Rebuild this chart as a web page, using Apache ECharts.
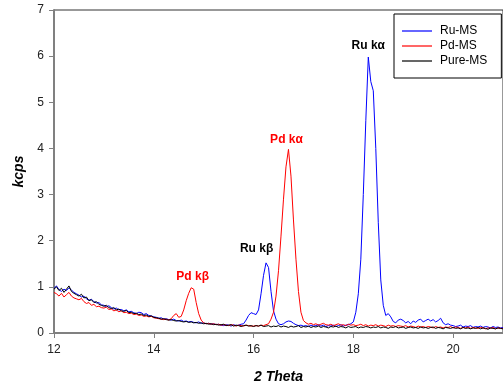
<!DOCTYPE html>
<html>
<head>
<meta charset="utf-8">
<script src="https://cdn.jsdelivr.net/npm/echarts@6/dist/echarts.min.js"></script>
<style>
html,body{margin:0;padding:0;background:#fff;}
#chart{width:503px;height:390px;}
</style>
</head>
<body>
<div id="chart"></div>
<script>
// 2 Theta positions
var twoTheta = [
12.00,12.05,12.10,12.15,12.20,12.25,12.30,12.35,12.40,12.45,
12.50,12.55,12.60,12.65,12.70,12.75,12.80,12.85,12.90,12.95,
13.00,13.05,13.10,13.15,13.20,13.25,13.30,13.35,13.40,13.45,
13.50,13.55,13.60,13.65,13.70,13.75,13.80,13.85,13.90,13.95,
14.00,14.05,14.10,14.15,14.20,14.25,14.30,14.35,14.40,14.45,
14.50,14.55,14.60,14.65,14.70,14.75,14.80,14.85,14.90,14.95,
15.00,15.05,15.10,15.15,15.20,15.25,15.30,15.35,15.40,15.45,
15.50,15.55,15.60,15.65,15.70,15.75,15.80,15.85,15.90,15.95,
16.00,16.05,16.10,16.15,16.20,16.25,16.30,16.35,16.40,16.45,
16.50,16.55,16.60,16.65,16.70,16.75,16.80,16.85,16.90,16.95,
17.00,17.05,17.10,17.15,17.20,17.25,17.30,17.35,17.40,17.45,
17.50,17.55,17.60,17.65,17.70,17.75,17.80,17.85,17.90,17.95,
18.00,18.05,18.10,18.15,18.20,18.25,18.30,18.35,18.40,18.45,
18.50,18.55,18.60,18.65,18.70,18.75,18.80,18.85,18.90,18.95,
19.00,19.05,19.10,19.15,19.20,19.25,19.30,19.35,19.40,19.45,
19.50,19.55,19.60,19.65,19.70,19.75,19.80,19.85,19.90,19.95,
20.00,20.05,20.10,20.15,20.20,20.25,20.30,20.35,20.40,20.45,
20.50,20.55,20.60,20.65,20.70,20.75,20.80,20.85,20.90,20.95,
21.00];

var ruMS = [
0.97,1.02,0.94,0.90,0.95,0.92,0.98,0.93,0.88,0.85,
0.82,0.78,0.80,0.74,0.71,0.73,0.68,0.65,0.66,0.61,
0.60,0.57,0.59,0.55,0.52,0.54,0.50,0.51,0.48,0.50,
0.46,0.47,0.44,0.42,0.45,0.44,0.40,0.42,0.38,0.37,
0.35,0.34,0.32,0.33,0.30,0.31,0.29,0.28,0.30,0.27,
0.26,0.28,0.25,0.26,0.24,0.25,0.23,0.22,0.24,0.21,
0.22,0.20,0.21,0.19,0.20,0.18,0.19,0.17,0.16,0.18,
0.17,0.15,0.18,0.16,0.17,0.19,0.20,0.28,0.38,0.44,
0.42,0.40,0.50,0.85,1.25,1.52,1.42,0.90,0.48,0.30,
0.20,0.18,0.20,0.24,0.26,0.25,0.21,0.18,0.16,0.17,
0.15,0.16,0.14,0.17,0.15,0.16,0.18,0.15,0.17,0.14,
0.16,0.15,0.17,0.14,0.16,0.18,0.15,0.17,0.18,0.20,
0.24,0.45,0.85,1.60,3.00,4.60,5.98,5.45,5.25,4.00,
2.40,1.15,0.60,0.38,0.42,0.35,0.25,0.22,0.28,0.30,
0.27,0.22,0.25,0.20,0.26,0.23,0.28,0.30,0.24,0.27,
0.30,0.26,0.29,0.24,0.27,0.32,0.22,0.18,0.20,0.17,
0.16,0.14,0.15,0.17,0.13,0.15,0.14,0.16,0.12,0.14,
0.13,0.15,0.12,0.14,0.13,0.11,0.14,0.12,0.13,0.11,
0.12];

var pdMS = [
0.88,0.85,0.80,0.86,0.78,0.83,0.88,0.80,0.76,0.74,
0.72,0.75,0.68,0.64,0.66,0.60,0.62,0.57,0.58,0.55,
0.54,0.56,0.51,0.52,0.48,0.50,0.46,0.48,0.44,0.45,
0.42,0.43,0.40,0.41,0.38,0.39,0.36,0.37,0.35,0.36,
0.33,0.32,0.31,0.30,0.29,0.30,0.28,0.31,0.38,0.42,
0.34,0.36,0.50,0.70,0.86,0.98,0.95,0.66,0.42,0.28,
0.22,0.20,0.21,0.19,0.20,0.18,0.19,0.17,0.18,0.17,
0.16,0.18,0.17,0.15,0.17,0.16,0.15,0.17,0.16,0.15,
0.15,0.16,0.15,0.17,0.16,0.18,0.20,0.30,0.45,0.80,
1.35,2.10,2.90,3.60,3.98,3.40,2.45,1.60,0.90,0.45,
0.27,0.22,0.19,0.21,0.18,0.20,0.17,0.19,0.21,0.18,
0.17,0.19,0.16,0.18,0.20,0.17,0.18,0.16,0.19,0.17,
0.18,0.16,0.17,0.19,0.16,0.18,0.15,0.17,0.16,0.18,
0.15,0.17,0.16,0.14,0.17,0.15,0.16,0.14,0.16,0.15,
0.14,0.16,0.13,0.15,0.14,0.12,0.15,0.13,0.14,0.12,
0.14,0.13,0.11,0.14,0.12,0.13,0.11,0.13,0.12,0.14,
0.11,0.13,0.12,0.10,0.12,0.11,0.13,0.10,0.12,0.11,
0.10,0.12,0.11,0.09,0.11,0.10,0.12,0.09,0.11,0.10,
0.10];

var pureMS = [
0.95,1.00,0.92,0.97,0.88,0.95,1.02,0.90,0.86,0.83,
0.80,0.84,0.76,0.78,0.70,0.72,0.66,0.68,0.62,0.60,
0.58,0.60,0.55,0.53,0.55,0.50,0.52,0.48,0.47,0.49,
0.44,0.45,0.42,0.43,0.40,0.41,0.38,0.39,0.36,0.37,
0.34,0.33,0.32,0.30,0.31,0.29,0.28,0.29,0.27,0.26,
0.27,0.25,0.24,0.25,0.23,0.24,0.22,0.23,0.21,0.22,
0.20,0.21,0.19,0.20,0.18,0.19,0.17,0.18,0.19,0.16,
0.17,0.18,0.15,0.17,0.16,0.14,0.16,0.17,0.15,0.16,
0.14,0.16,0.15,0.17,0.14,0.15,0.16,0.13,0.15,0.14,
0.16,0.13,0.15,0.14,0.12,0.15,0.13,0.14,0.16,0.12,
0.14,0.13,0.15,0.12,0.14,0.13,0.15,0.12,0.14,0.13,
0.11,0.14,0.13,0.15,0.12,0.14,0.13,0.11,0.14,0.12,
0.13,0.14,0.11,0.13,0.12,0.14,0.13,0.11,0.13,0.12,
0.14,0.11,0.13,0.12,0.10,0.13,0.12,0.14,0.11,0.12,
0.13,0.10,0.12,0.13,0.11,0.12,0.10,0.13,0.11,0.12,
0.10,0.12,0.13,0.10,0.12,0.11,0.09,0.12,0.11,0.10,
0.12,0.10,0.11,0.09,0.12,0.10,0.11,0.09,0.11,0.10,
0.12,0.09,0.11,0.10,0.08,0.11,0.10,0.09,0.11,0.10,
0.09];

var seriesNames = ['Ru-MS', 'Pd-MS', 'Pure-MS'];
var xTicks = [12, 14, 16, 18, 20];
var yTicks = [0, 1, 2, 3, 4, 5, 6, 7];

// Peak annotations: [label, 2theta, kcps]
var ruPeaks = [['Ru k\u03b1', 18.30, 6.22], ['Ru k\u03b2', 16.06, 1.82]];
var pdPeaks = [['Pd k\u03b1', 16.66, 4.18], ['Pd k\u03b2', 14.78, 1.21]];

function pairs(ys) { return twoTheta.map(function (x, i) { return [x, ys[i]]; }); }
function marks(list, color) {
  return {
    symbol: 'circle', symbolSize: 1, silent: true,
    itemStyle: { color: 'rgba(0,0,0,0)' },
    label: { show: true, position: 'inside', color: color, fontWeight: 'bold',
             fontSize: 12, fontFamily: 'Arial, "Liberation Sans", sans-serif',
             formatter: function (p) { return p.name; } },
    data: list.map(function (d) { return { name: d[0], coord: [d[1], d[2]] }; })
  };
}

var FONT = 'Arial, "Liberation Sans", sans-serif';
var chart = echarts.init(document.getElementById('chart'), null, { renderer: 'canvas' });
chart.setOption({
  animation: false,
  backgroundColor: '#fff',
  grid: { left: 54, top: 10, right: -2, bottom: 57, show: true, borderColor: '#333', borderWidth: 1 },
  legend: {
    orient: 'vertical', left: 394, top: 14,
    data: seriesNames,
    icon: 'rect',
    padding: [11, 14, 11, 8],
    itemWidth: 30, itemHeight: 1.2, itemGap: 3,
    borderColor: '#000', borderWidth: 1, backgroundColor: '#fff',
    textStyle: { color: '#000', fontSize: 12, fontFamily: FONT, padding: [0, 0, 0, 3] }
  },
  xAxis: {
    type: 'value', min: 12, max: 21, interval: 2,
    name: '2 Theta', nameLocation: 'middle', nameGap: 37,
    nameTextStyle: { fontSize: 14, fontWeight: 'bold', fontStyle: 'italic', color: '#000', fontFamily: FONT },
    axisLine: { show: true, lineStyle: { color: '#808080', width: 2 } },
    axisTick: { show: true, length: 5, inside: false, lineStyle: { color: '#808080', width: 1 } },
    axisLabel: { fontSize: 12, color: '#222', margin: 11, fontFamily: FONT, showMaxLabel: false,
                 formatter: function (v) { return xTicks.indexOf(v) >= 0 ? String(v) : ''; } },
    splitLine: { show: false }
  },
  yAxis: {
    type: 'value', min: 0, max: 7, interval: 1,
    name: 'kcps', nameLocation: 'middle', nameGap: 28, nameRotate: 90,
    nameTextStyle: { fontSize: 14, fontWeight: 'bold', fontStyle: 'italic', color: '#000', fontFamily: FONT },
    axisLine: { show: true, lineStyle: { color: '#808080', width: 2 } },
    axisTick: { show: true, length: 5, inside: false, lineStyle: { color: '#808080', width: 1 } },
    axisLabel: { fontSize: 12, color: '#222', margin: 10, fontFamily: FONT,
                 formatter: function (v) { return yTicks.indexOf(v) >= 0 ? String(v) : ''; } },
    splitLine: { show: false }
  },
  series: [
    { name: seriesNames[0], type: 'line', data: pairs(ruMS), symbol: 'none', showSymbol: false,
      lineStyle: { color: '#0000ff', width: 1 }, itemStyle: { color: '#0000ff' },
      markPoint: marks(ruPeaks, '#000') },
    { name: seriesNames[1], type: 'line', data: pairs(pdMS), symbol: 'none', showSymbol: false,
      lineStyle: { color: '#ff0000', width: 1 }, itemStyle: { color: '#ff0000' },
      markPoint: marks(pdPeaks, '#ff0000') },
    { name: seriesNames[2], type: 'line', data: pairs(pureMS), symbol: 'none', showSymbol: false,
      lineStyle: { color: '#000', width: 1 }, itemStyle: { color: '#000' } }
  ]
});
</script>
</body>
</html>
